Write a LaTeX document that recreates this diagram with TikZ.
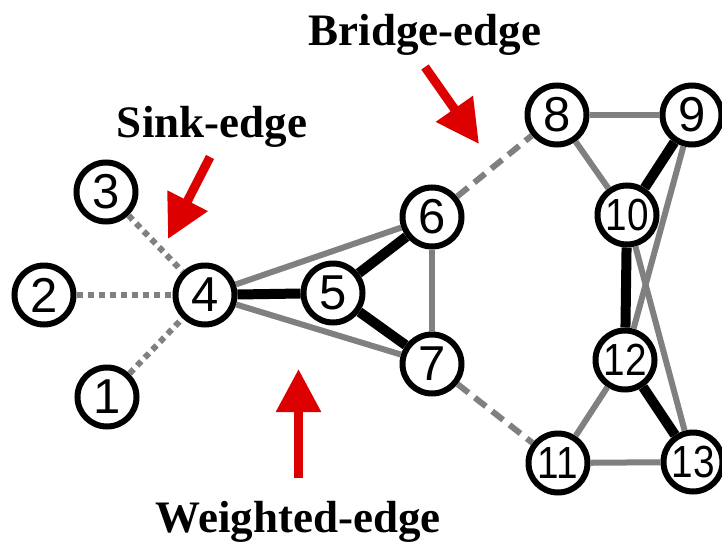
\documentclass[tikz,border=0pt]{standalone}
\usepackage{fontspec}
\setmainfont{Liberation Serif}
\newfontfamily\numfont{Liberation Sans}
\usetikzlibrary{arrows.meta}

\definecolor{edgegray}{RGB}{128,128,128}
\definecolor{markred}{RGB}{221,0,0}

% narrow two digit labels
\newcommand{\twodig}[1]{\scalebox{0.86}[1]{#1}}

\begin{document}
\begin{tikzpicture}[x=0.5pt,y=-0.5pt,
  vertex/.style={circle, fill=white, draw=black, line width=3pt, minimum size=29.5pt, inner sep=0pt, font=\numfont\fontsize{24.5}{24.5}\selectfont},
  vertexw/.style={vertex, font=\numfont\fontsize{22.5}{22.5}\selectfont},
  plain/.style={draw=edgegray, line width=3pt},
  heavy/.style={draw=black, line width=5pt},
  sink/.style={draw=edgegray, line width=3pt, dash pattern=on 3pt off 2.5pt},
  bridge/.style={draw=edgegray, line width=3pt, dash pattern=on 7pt off 4pt},
  pointer/.style={draw=markred, line width=4.5pt, -{Triangle[length=21.5pt,width=21.5pt]}},
  caption/.style={anchor=base, inner sep=0pt, font=\bfseries\fontsize{22.5}{22.5}\selectfont}]
\useasboundingbox (0,0) rectangle (722,546);

% sink side
\node [vertex] (n3) at (106,192) {3};
\node [vertex] (n2) at (44,295) {2};
\node [vertex] (n1) at (107,397) {1};
\node [vertex] (n4) at (205,295) {4};
% left triangle
\node [vertex] (n5) at (333,293) {5};
\node [vertex] (n6) at (432,217) {6};
\node [vertex] (n7) at (432,364) {7};
% right cluster
\node [vertex] (n8) at (557,115) {8};
\node [vertex] (n9) at (692,115) {9};
\node [vertexw] (n10) at (627,215) {\twodig{10}};
\node [vertexw] (n12) at (625,360) {\twodig{12}};
\node [vertexw] (n11) at (558,463) {\twodig{11}};
\node [vertexw] (n13) at (693,462) {\twodig{13}};

% edges
\draw [sink] (n3) -- (n4);
\draw [sink] (n2) -- (n4);
\draw [sink] (n1) -- (n4);
\draw [heavy] (n4) -- (n5);
\draw [plain] (n4) -- (n6);
\draw [plain] (n4) -- (n7);
\draw [heavy] (n5) -- (n6);
\draw [heavy] (n5) -- (n7);
\draw [plain] (n6) -- (n7);
\draw [bridge] (n6) -- (n8);
\draw [bridge] (n7) -- (n11);
\draw [plain] (n8) -- (n9);
\draw [plain] (n8) -- (n10);
\draw [heavy] (n9) -- (n10);
\draw [plain] (n9) -- (n12);
\draw [plain] (n10) -- (n13);
\draw [heavy] (n10) -- (n12);
\draw [heavy] (n12) -- (n13);
\draw [plain] (n11) -- (n12);
\draw [plain] (n11) -- (n13);

% captions and pointers
\node [caption] (bridgelbl) at (425,45) {Bridge-edge};
\node [caption] (sinklbl) at (212,137) {Sink-edge};
\node [caption] (weightlbl) at (298,532) {Weighted-edge};
\coordinate (bridgefrom) at (425,67);
\coordinate (bridgeto) at (479,144);
\coordinate (sinkfrom) at (210,157);
\coordinate (sinkto) at (168,239);
\coordinate (weightfrom) at (298.5,478);
\coordinate (weightto) at (298.5,369);
\draw [pointer] (bridgefrom) -- (bridgeto);
\draw [pointer] (sinkfrom) -- (sinkto);
\draw [pointer] (weightfrom) -- (weightto);
\end{tikzpicture}
\end{document}
